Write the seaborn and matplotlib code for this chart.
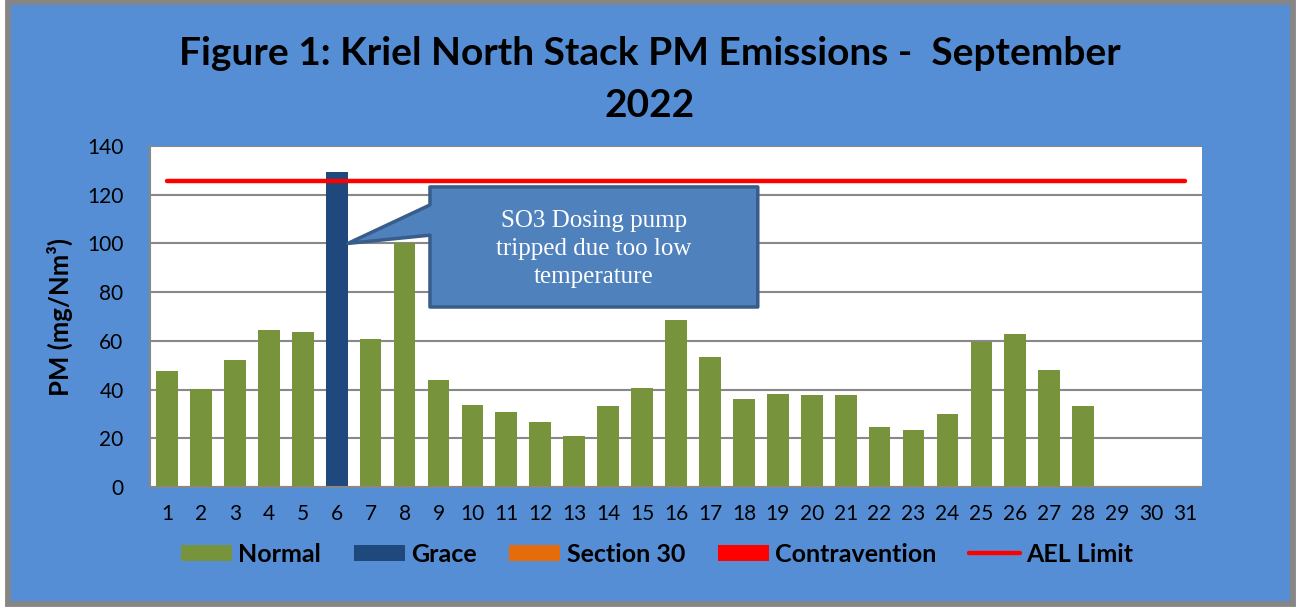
import numpy as np
import pandas as pd
import seaborn as sns
import matplotlib
matplotlib.use("Agg")
import matplotlib.pyplot as plt
from matplotlib.patches import Patch, Polygon, Rectangle
from matplotlib.lines import Line2D

# ---------------- data ----------------
days = list(range(1, 32))
pm_values = [47.5, 40.4, 52.1, 64.4, 63.6, 129.3, 60.7, 100.3, 44.1, 33.6,
             30.8, 26.8, 21.0, 33.3, 40.8, 68.5, 53.4, 36.0, 38.1, 37.7,
             37.7, 24.5, 23.6, 30.1, 59.6, 62.7, 48.2, 33.2]
status = ["Normal"] * 5 + ["Grace"] + ["Normal"] * 22
ael_limit = [125.7] * 31
categories = ["Normal", "Grace", "Section 30", "Contravention"]
cat_colors = ["#77933C", "#1F497D", "#E46C0A", "#FF0000"]
ael_label = "AEL Limit"
yticks = [0, 20, 40, 60, 80, 100, 120, 140]
title = "Figure 1: Kriel North Stack PM Emissions -  September\n2022"
ylabel = "PM (mg/Nm³)"
callout_text = "SO3 Dosing pump\ntripped due too low\ntemperature"

df = pd.DataFrame({"day": days[:len(pm_values)], "pm": pm_values, "status": status})

# ---------------- style ----------------
sns.set_style("white")
plt.rcParams["font.family"] = ["Lato", "DejaVu Sans"]
for k in ["text.color", "axes.labelcolor", "xtick.color", "ytick.color"]:
    plt.rcParams[k] = "black"

BG = "#558ED5"
GRID = "#888888"

fig = plt.figure(figsize=(13, 6.08), dpi=100)
fig.patch.set_facecolor("white")
W, H = 1300, 608
fig.patches.append(Rectangle((8 / W, 1 - 604 / H), (1292.5 - 8) / W, (604 - 2) / H,
                             transform=fig.transFigure, facecolor=BG,
                             edgecolor="#868686", linewidth=4.2, zorder=-10))

ax = fig.add_axes([150 / W, 1 - 487 / H, (1202 - 150) / W, (487 - 146) / H])
ax.set_facecolor("white")

sns.barplot(data=df, x="day", y="pm", hue="status", hue_order=categories,
            palette=dict(zip(categories, cat_colors)), dodge=False,
            native_scale=True, width=0.64, saturation=1, errorbar=None,
            legend=False, linewidth=0, ax=ax, zorder=2)

sns.lineplot(x=days, y=ael_limit, color="#FF0000", linewidth=3.2,
             solid_capstyle="round", ax=ax, zorder=5, legend=False)

ax.set_xlim(0.5, 31.5)
ax.set_ylim(0, 140)
ax.set_xticks(days)
ax.set_xticklabels([str(d) for d in days])
ax.set_yticks(yticks)
ax.tick_params(axis="both", length=0, labelsize=15, colors="black")
ax.tick_params(axis="x", pad=12)
ax.tick_params(axis="y", pad=19)
ax.yaxis.grid(True, color=GRID, linewidth=1.5)
ax.set_axisbelow(True)
for s in ["top", "right"]:
    ax.spines[s].set_visible(False)
for s in ["left", "bottom"]:
    ax.spines[s].set_color(GRID)
    ax.spines[s].set_linewidth(1.5)
ax.set_xlabel("")
ax.set_ylabel(ylabel, fontsize=18.5, fontweight="bold", color="black")
ax.yaxis.set_label_coords(-0.073, 0.5)

# ---------------- callout ----------------
bx0, bx1, by0, by1 = 8.75, 18.41, 73.9, 123.2
verts = [(bx0, by1), (bx1, by1), (bx1, by0), (bx0, by0),
         (bx0, 103.4), (6.33, 100.0), (bx0, 115.8)]
ax.add_patch(Polygon(verts, closed=True, facecolor="#4F81BD", edgecolor="#385D8A",
                     linewidth=2.5, joinstyle="round", zorder=6))
ax.text((bx0 + bx1) / 2, 97.7, callout_text, ha="center", va="center",
        color="white", fontsize=18, family=["Liberation Serif", "DejaVu Serif"],
        linespacing=1.38, zorder=7)

# ---------------- title ----------------
fig.text(0.5, 1 - 79.5 / H, title, ha="center", va="center", fontsize=28,
         fontweight="bold", linespacing=1.57, color="black")

# ---------------- legend ----------------
handles = [Patch(facecolor=c, edgecolor="none") for c in cat_colors]
handles.append(Line2D([], [], color="#FF0000", linewidth=3.2, solid_capstyle="round"))
fig.legend(handles, categories + [ael_label], loc="center", ncol=5,
           bbox_to_anchor=(657 / W, 1 - 554 / H), frameon=False,
           prop={"weight": "bold", "size": 18}, handlelength=2.05,
           handleheight=0.6, handletextpad=0.25, columnspacing=1.3,
           labelcolor="black")

fig.savefig("out.png", dpi=100, facecolor=fig.get_facecolor())
